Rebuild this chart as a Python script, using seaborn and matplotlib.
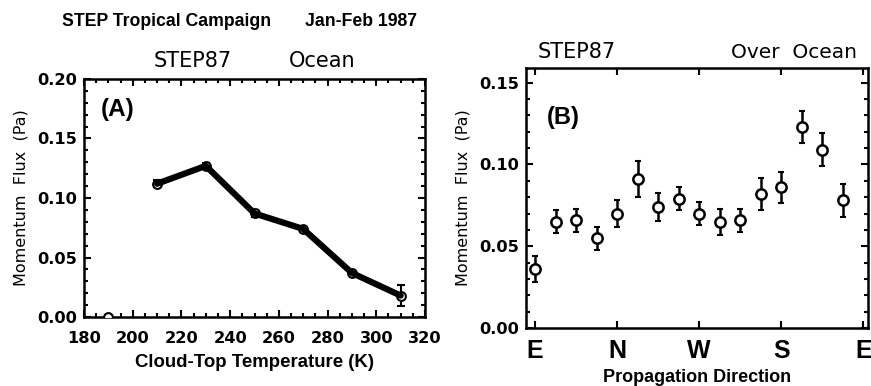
import numpy as np
import pandas as pd
import matplotlib
matplotlib.use("Agg")
import matplotlib.pyplot as plt
from matplotlib.ticker import MultipleLocator
import seaborn as sns

# Panel A data
temp_k = [190, 210, 230, 250, 270, 290, 310]
flux_a = [0.000, 0.112, 0.127, 0.087, 0.074, 0.037, 0.018]
err_a = [0.000, 0.003, 0.002, 0.003, 0.002, 0.002, 0.009]

# Panel B data
direction_deg = [0, 22.5, 45, 67.5, 90, 112.5, 135, 157.5, 180, 202.5, 225, 247.5, 270, 292.5, 315, 337.5]
flux_b = [0.036, 0.065, 0.066, 0.055, 0.070, 0.091, 0.074, 0.079, 0.070, 0.065, 0.066, 0.082, 0.086, 0.123, 0.109, 0.078]
err_b = [0.008, 0.007, 0.007, 0.007, 0.008, 0.011, 0.0085, 0.007, 0.007, 0.008, 0.007, 0.010, 0.0095, 0.010, 0.010, 0.010]
dir_ticks = [0, 90, 180, 270, 360]
dir_labels = ["E", "N", "W", "S", "E"]

sns.set_theme(style="ticks")
plt.rcParams["font.family"] = ["DejaVu Sans"]
plt.rcParams.update({"text.color": "black", "axes.labelcolor": "black",
                     "xtick.color": "black", "ytick.color": "black",
                     "axes.edgecolor": "black"})

fig = plt.figure(figsize=(8.71, 3.86), dpi=100)
axA = fig.add_axes([84/871, 1-317/386, 341/871, 238/386])
axB = fig.add_axes([526/871, 1-328/386, 342/871, 260/386])

bold = dict(family="Liberation Sans", weight="bold")

# ---- Panel A ----
dfa = pd.DataFrame({"T": temp_k, "F": flux_a, "E": err_a})
axA.errorbar(dfa["T"], dfa["F"], yerr=dfa["E"], fmt="none", ecolor="black", elinewidth=1.5,
             capsize=3, capthick=1.5, zorder=3)
sns.scatterplot(data=dfa, x="T", y="F", ax=axA, marker="o", s=40, facecolor="white",
                edgecolor="black", linewidth=1.5, zorder=4)
sns.lineplot(data=dfa[dfa["T"] >= 210], x="T", y="F", ax=axA, color="black", lw=4.5,
             zorder=5)
for c in axA.collections:
    c.set_clip_on(True)
axA.set_xlim(180, 320)
axA.set_ylim(0, 0.2)
axA.xaxis.set_major_locator(MultipleLocator(20))
axA.xaxis.set_minor_locator(MultipleLocator(5))
axA.yaxis.set_major_locator(MultipleLocator(0.05))
axA.yaxis.set_minor_locator(MultipleLocator(0.01))
axA.yaxis.set_major_formatter(matplotlib.ticker.FormatStrFormatter("%.2f"))
axA.set_xlabel("Cloud-Top Temperature (K)", fontsize=13.4, labelpad=6, color="black", **bold)
axA.set_ylabel("Momentum  Flux  (Pa)", fontsize=11.5, labelpad=6, color="black")
axA.text(0.05, 0.845, "(A)", transform=axA.transAxes, fontsize=17.5, color="black", **bold)

# ---- Panel B ----
dfb = pd.DataFrame({"D": direction_deg, "F": flux_b, "E": err_b})
axB.errorbar(dfb["D"], dfb["F"], yerr=dfb["E"], fmt="none", ecolor="black", elinewidth=1.8,
             capsize=2.5, capthick=1.5, zorder=3)
sns.scatterplot(data=dfb, x="D", y="F", ax=axB, marker="o", s=55, facecolor="white",
                edgecolor="black", linewidth=1.8, zorder=4)
axB.set_xlim(-10, 365)
axB.set_ylim(0, 0.159)
axB.set_xticks(dir_ticks)
axB.set_xticklabels(dir_labels)
axB.yaxis.set_major_locator(MultipleLocator(0.05))
axB.yaxis.set_minor_locator(MultipleLocator(0.01))
axB.yaxis.set_major_formatter(matplotlib.ticker.FormatStrFormatter("%.2f"))
axB.set_xlabel("Propagation Direction", fontsize=13, labelpad=4, color="black", **bold)
axB.set_ylabel("Momentum  Flux  (Pa)", fontsize=11.5, labelpad=6, color="black")
axB.text(0.06, 0.785, "(B)", transform=axB.transAxes, fontsize=17, color="black", **bold)

for ax in (axA, axB):
    for s in ax.spines.values():
        s.set_visible(True)
        s.set_linewidth(1.8)
        s.set_color("black")
    ax.tick_params(which="both", direction="in", top=True, right=True, color="black",
                   labelcolor="black", width=1.5)
    ax.tick_params(which="major", length=5)
    ax.tick_params(which="minor", length=3)
    ax.tick_params(axis="y", labelsize=11.7, pad=5)
    ax.tick_params(axis="x", labelsize=11.7, pad=10)
    for lab in ax.get_yticklabels() + ax.get_xticklabels():
        lab.set_fontweight("bold")
        lab.set_family("DejaVu Sans")
    ax.set_facecolor("white")

for lab in axB.get_xticklabels():
    lab.set_fontsize(18)
    lab.set_family("Liberation Sans")
axB.tick_params(axis="x", pad=8)

# Headers
fig.text(62/871, 1-22/386, "STEP Tropical Campaign", fontsize=12.7, va="center", ha="left", color="black", **bold)
fig.text(305/871, 1-22/386, "Jan-Feb 1987", fontsize=12.7, va="center", ha="left", color="black", **bold)
fig.text(154/871, 1-61/386, "STEP87", fontsize=15, va="center", ha="left", color="black")
fig.text(289/871, 1-61/386, "Ocean", fontsize=15, va="center", ha="left", color="black")
fig.text(538/871, 1-52/386, "STEP87", fontsize=15, va="center", ha="left", color="black")
fig.text(857/871, 1-52/386, "Over  Ocean", fontsize=14.5, va="center", ha="right", color="black")

fig.savefig("out.png", dpi=100, facecolor="white")
